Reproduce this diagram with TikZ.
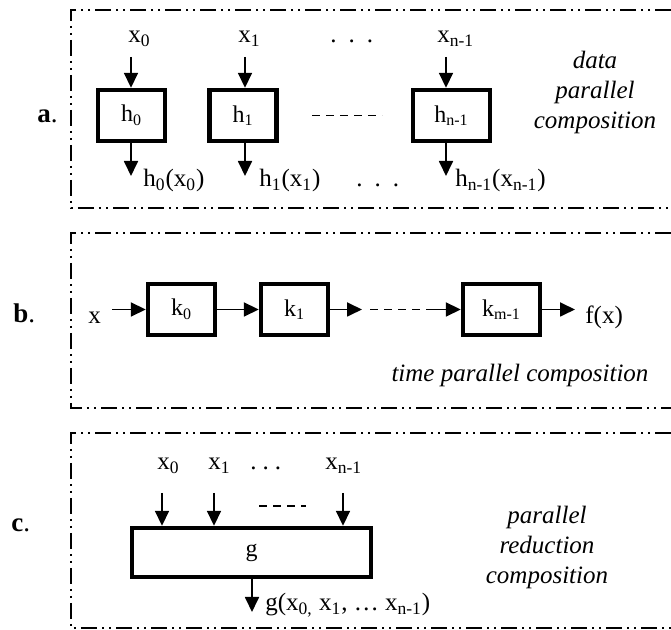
\documentclass[tikz,border=0pt]{standalone}
\usepackage{fontspec}
\setmainfont{Liberation Serif}
\usetikzlibrary{arrows.meta, positioning}
\tikzset{
    frame/.style={line width=0.6pt,
        dash pattern=on 8pt off 2.5pt on 1pt off 2.5pt on 1pt off 2.5pt},
    block/.style={draw, line width=2.2pt, inner sep=0pt, minimum height=25.5pt,
        font=\fontsize{12}{14}\selectfont},
    flow/.style={-{Triangle[length=7.5pt,width=7pt]}, line width=0.9pt},
    gap/.style={line width=0.8pt, dash pattern=on 4pt off 3pt},
    lbl/.style={inner sep=0pt, anchor=base west, font=\fontsize{12.5}{14}\selectfont},
    note/.style={inner sep=0pt, align=center, font=\fontsize{12.5}{15}\selectfont\itshape},
    tag/.style={inner sep=0pt, anchor=base west, font=\fontsize{13.5}{15}\selectfont}
}
\newcommand{\sub}[1]{\textsubscript{#1}}
\newcommand{\spdots}{.\hspace{6pt}.\hspace{6pt}.}
\begin{document}
\begin{tikzpicture}[x=0.5pt, y=-0.5pt]
    \useasboundingbox (0,0) rectangle (671,630);
    % a. data parallel composition
    \draw[frame] (671,10) -| (71,208) -- (671,208);
    \node[tag] (taga) at (37,123) {\textbf{a}.};
    \node[block, minimum width=33.5pt] (h0) at (131.5,115.5) {h\sub{0}};
    \node[block, minimum width=33.5pt] (h1) at (243,115.5) {h\sub{1}};
    \node[block, minimum width=38.5pt] (hn) at (451.5,115.5) {h\sub{n-1}};
    \node[lbl] (xa0) at (128,43) {x\sub{0}};
    \node[lbl] (xa1) at (238,43) {x\sub{1}};
    \node[lbl] (xan) at (437,43) {x\sub{n-1}};
    \node[lbl] (topdots) at (330,43) {\spdots};
    \coordinate (ia0) at (131,57);
    \coordinate (ia1) at (245,57);
    \coordinate (ian) at (446,57);
    \coordinate (oa0) at (131,176);
    \coordinate (oa1) at (245,176);
    \coordinate (oan) at (446,176);
    \foreach \i/\b in {ia0/h0, ia1/h1, ian/hn}{
        \draw[flow] (\i) -- (\i |- \b.north);
    }
    \foreach \o/\b in {oa0/h0, oa1/h1, oan/hn}{
        \draw[flow] (\o |- \b.south) -- (\o);
    }
    \draw[gap] (h1.east -| 312,0) -- (hn.west -| 382,0);
    \node[lbl] (ya0) at (143,187) {h\sub{0}(x\sub{0})};
    \node[lbl] (ya1) at (259,187) {h\sub{1}(x\sub{1})};
    \node[lbl] (yan) at (455,187) {h\sub{n-1}(x\sub{n-1})};
    \node[lbl] (botdots) at (356,187) {\spdots};
    \node[note] (nota) at (595,92) {data\\parallel\\composition};
    % b. time parallel composition
    \draw[frame] (671,233) -| (71,408) -- (671,408);
    \node[tag] (tagb) at (13,323) {\textbf{b}.};
    \node[block, minimum width=33.5pt] (k0) at (181.5,309.5) {k\sub{0}};
    \node[block, minimum width=33.5pt] (k1) at (294.5,309.5) {k\sub{1}};
    \node[block, minimum width=38.5pt] (km) at (501.5,309.5) {k\sub{m-1}};
    \node[lbl] (xin) at (88,324) {x};
    \node[lbl] (fx) at (585,324) {f(x)};
    \coordinate (bin) at (112,309.5);
    \coordinate (bd1) at (362,309.5);
    \coordinate (bd2) at (370,309.5);
    \coordinate (bd3) at (427,309.5);
    \coordinate (bout) at (575,309.5);
    \draw[flow] (bin) -- (k0);
    \draw[flow] (k0) -- (k1);
    \draw[flow] (k1) -- (bd1);
    \draw[gap] (bd2) -- (bd3);
    \draw[flow] (bd3) -- (km);
    \draw[flow] (km) -- (bout);
    \node[note] (notb) at (520,375) {time parallel composition};
    % c. parallel reduction composition
    \draw[frame] (671,433) -| (71,628) -- (671,628);
    \node[tag] (tagc) at (11,532) {\textbf{c}.};
    \node[block, minimum width=119.5pt, minimum height=24.5pt] (g) at (251.5,552.5) {g};
    \node[lbl] (xc0) at (157,470) {x\sub{0}};
    \node[lbl] (xc1) at (208,470) {x\sub{1}};
    \node[lbl] (xcn) at (325,470) {x\sub{n-1}};
    \node[lbl] (cdots) at (250,470) {.\hspace{3pt}.\hspace{3pt}.};
    \foreach \x in {162,214,343}{
        \draw[flow] (\x,493) -- (g.north -| \x,0);
    }
    \draw[gap] (259,506) -- (306,506);
    \coordinate (oc) at (252,612);
    \draw[flow] (oc |- g.south) -- (oc);
    \node[lbl] (yc) at (265,611) {g(x\sub{0,} x\sub{1}, \ldots\ x\sub{n-1})};
    \node[note] (notc) at (547,547) {parallel\\reduction\\composition};
\end{tikzpicture}
\end{document}
